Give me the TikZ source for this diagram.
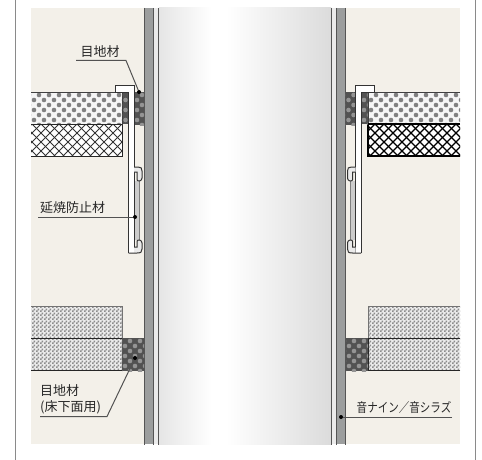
\documentclass[tikz,border=0pt]{standalone}
\usepackage{fontspec}
\setmainfont{Noto Sans CJK JP}
\usepackage{xcolor}
\usetikzlibrary{patterns}

\definecolor{wallbg}{HTML}{F3F0E9}
\definecolor{postgray}{HTML}{9C9E9E}
\definecolor{edgegray}{HTML}{555555}
\definecolor{framegray}{HTML}{8A8A8A}

\pgfdeclarepatternformonly{tilechecks}{\pgfqpoint{0pt}{0pt}}{\pgfqpoint{4pt}{4pt}}{\pgfqpoint{4pt}{4pt}}{
  \pgfpathrectangle{\pgfqpoint{0pt}{0pt}}{\pgfqpoint{2pt}{2pt}}
  \pgfpathrectangle{\pgfqpoint{2pt}{2pt}}{\pgfqpoint{2pt}{2pt}}
  \pgfusepath{fill}}

\tikzset{
  label/.style={inner sep=0pt,font=\fontsize{13}{16}\selectfont,text=black!85},
  leader/.style={draw=black!68,line width=1pt},
  dotend/.style={circle,fill=black,inner sep=0pt,minimum size=4pt},
  edge/.style={draw=black!80,line width=1pt},
  checklayer/.style={fill=black!8,postaction={pattern=tilechecks,pattern color=black!45}},
}

% staggered dots: {x0}{y0}{x1}{y1}{background}{dot colour}
\newcommand{\dotlayer}[6]{
\fill[#5] (#1,#2) rectangle (#3,#4);
\begin{scope}
\clip (#1,#2) rectangle (#3,#4);
\foreach \ydot in {0,1,...,7}{
  \pgfmathsetmacro{\xoff}{mod(\ydot,2)*5}
  \foreach \xdot in {0,10,...,130}
    \fill[#6] (#1+\xdot+\xoff-2,#2+3+\ydot*5) circle (2.3);
}
\end{scope}
}

% clip bracket, drawn for the left side (x = 1) or the mirrored right side (x = -1)
\newcommand{\bracketsign}{1}
\newcommand{\bracket}[1]{
\begin{scope}[xshift=#1,xscale=\bracketsign]
\fill[black!20] (134,181) rectangle (140,240);
\fill[black!50] (138.5,181) rectangle (140,240);
\fill[white] (128.5,86) rectangle (134,253);
\fill[white] (115.5,86) rectangle (134,92);
\draw[edge] (128.5,253) -- (128.5,92) -- (115.5,92) -- (115.5,86) -- (134,86) -- (134,253);
\fill[black!8] (134,253) -- (137,253) .. controls (141,253) and (142,252) .. (142,249)
  -- (142,243) .. controls (142,240) and (138,239) .. (137,241) -- (137,247) -- (134,247) -- cycle;
\fill[black!8] (134,167) -- (138,167) .. controls (141,167) and (142,168) .. (142,171)
  -- (142,178) .. controls (142,181) and (138,182) .. (137,180) -- (137,172) -- (134,172) -- cycle;
\draw[edge] (128.5,253) -- (137,253) .. controls (141,253) and (142,252) .. (142,249)
  -- (142,243) .. controls (142,240) and (138,239) .. (137,241) -- (137,247) -- (134,247);
\draw[edge] (134,167) -- (138,167) .. controls (141,167) and (142,168) .. (142,171)
  -- (142,178) .. controls (142,181) and (138,182) .. (137,180) -- (137,172) -- (134,172);
\end{scope}
}

\begin{document}
\begin{tikzpicture}[x=1pt,y=-1pt]
\useasboundingbox (0,0) rectangle (482,460);
\fill[white] (0,0) rectangle (482,460);

%outer frame
\draw[framegray,line width=1.2pt] (15.5,0) -- (15.5,460);
\draw[framegray,line width=1.2pt] (475.5,0) -- (475.5,460);

%wall
\fill[wallbg] (31,8) rectangle (460,444);

%post
\fill[black!8] (154,8) rectangle (158,444);
\fill[black!8] (332,8) rectangle (336,444);
\fill[postgray] (144,8) rectangle (153.5,444);
\fill[postgray] (336,8) rectangle (345.5,444);
\shade[left color=black!10,right color=white] (159,8) rectangle (212,444);
\fill[white] (212,8) rectangle (226,444);
\shade[left color=white,right color=black!14] (226,8) rectangle (331,444);
\foreach \xline in {144,153.5,158.5,331,336,345.5}
  \draw[edgegray,line width=1pt] (\xline,8) -- (\xline,445);

%upper floor, left
\dotlayer{31}{92}{122}{124}{black!4}{black!50}
\draw[black!75,line width=0.8pt] (31,92) -- (122,92) -- (122,124);
\fill[white] (31,124) rectangle (122,156);
\begin{scope}
\clip (31,124) rectangle (122,156);
\foreach \xhatch in {-40,-31,...,130}{
  \draw[black!80,line width=0.8pt] (\xhatch,124) -- ++(36,36);
  \draw[black!80,line width=0.8pt] (\xhatch,160) -- ++(36,-36);
}
\end{scope}
\draw[black!85,line width=1pt] (31,124) -- (122,124) -- (122,156) -- (31,156);
\dotlayer{122.5}{92}{128.5}{124}{black!68}{black!42}
\dotlayer{134}{92}{144}{125}{black!68}{black!42}
\renewcommand{\bracketsign}{1}
\bracket{0}

%upper floor, right
\dotlayer{368}{92}{460}{124}{black!4}{black!50}
\draw[black!75,line width=0.8pt] (460,92) -- (368,92) -- (368,124);
\fill[white] (368,124) rectangle (460,156);
\begin{scope}
\clip (368,124) rectangle (460,156);
\foreach \xhatch in {330,339,...,500}{
  \draw[black,line width=1.3pt] (\xhatch,124) -- ++(36,36);
  \draw[black,line width=1.3pt] (\xhatch,160) -- ++(36,-36);
}
\end{scope}
\draw[black,line width=1.2pt] (460,124) -- (368,124) -- (368,156) -- (460,156);
\dotlayer{361}{92}{367.5}{124}{black!68}{black!42}
\dotlayer{345.5}{92}{356}{125}{black!68}{black!42}
\renewcommand{\bracketsign}{-1}
\bracket{489.5}

%lower floor, left
\path[checklayer] (31,306) rectangle (122,338);
\path[checklayer] (31,338) rectangle (122,370.5);
\draw[black!55,line width=0.8pt] (31,306) -- (122,306) -- (122,338);
\draw[black!85,line width=0.9pt] (31,338) -- (122,338) -- (122,370.5) -- (31,370.5);
\dotlayer{122}{338}{144}{371}{black!68}{black!42}

%lower floor, right
\path[checklayer] (368,306) rectangle (460,338);
\path[checklayer] (368,338) rectangle (460,370.5);
\draw[black!55,line width=0.8pt] (460,306) -- (368,306) -- (368,338);
\draw[black!85,line width=0.9pt] (460,338) -- (368,338) -- (368,370.5) -- (460,370.5);
\dotlayer{346}{338}{368}{371}{black!68}{black!42}

%labels
\node[label] (topjoint) at (100,52) {目地材};
\coordinate (topjointA) at (76,60.5);
\coordinate (topjointB) at (126,60.5);
\node[dotend] (topjointend) at (139,92) {};
\draw[leader] (topjointA) -- (topjointB) -- (topjointend);

\node[label] (firestop) at (72.5,208) {延焼防止材};
\coordinate (firestopA) at (38,217);
\node[dotend] (firestopend) at (135,217) {};
\draw[leader] (firestopA) -- (firestopend);

\node[label,align=left,anchor=west] (floorjoint) at (40,399) {目地材\\(床下面用)};
\coordinate (floorjointA) at (40,416.5);
\coordinate (floorjointB) at (107,416.5);
\node[dotend] (floorjointend) at (135,358) {};
\draw[leader] (floorjointA) -- (floorjointB) -- (floorjointend);

\node[label] (postname) at (404,408) {\scalebox{0.81}[1]{音ナイン／音シラズ}};
\coordinate (postnameA) at (452,417);
\node[dotend] (postnameend) at (341,417) {};
\draw[leader] (postnameA) -- (postnameend);

\end{tikzpicture}
\end{document}
